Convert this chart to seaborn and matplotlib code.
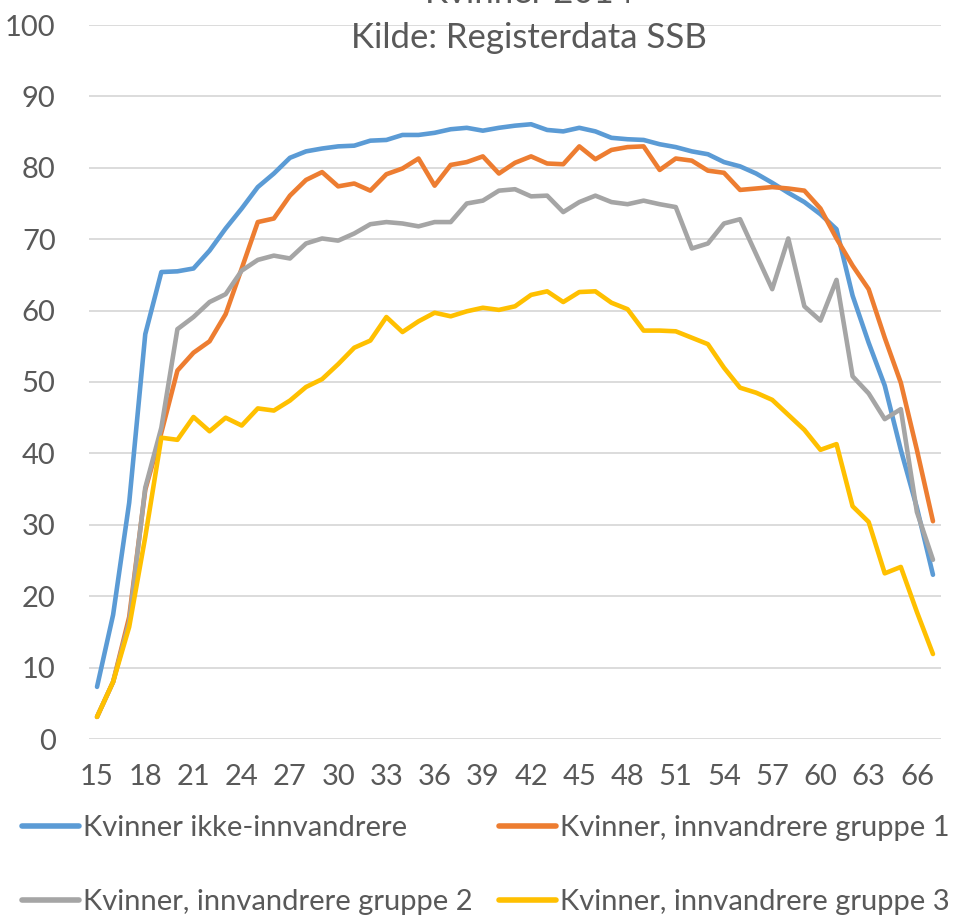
import numpy as np
import pandas as pd
import seaborn as sns
import matplotlib
import matplotlib.pyplot as plt
matplotlib.use('Agg')

# alder 15-67
ages = list(range(15, 68))

ikke_innv = [7.3, 17.4, 33.1, 56.7, 65.4, 65.5, 65.9, 68.4, 71.5, 74.3,
             77.3, 79.2, 81.4, 82.3, 82.7, 83.0, 83.1, 83.8, 83.9, 84.6,
             84.6, 84.9, 85.4, 85.6, 85.2, 85.6, 85.9, 86.1, 85.3, 85.1,
             85.6, 85.1, 84.2, 84.0, 83.9, 83.3, 82.9, 82.3, 81.9, 80.8,
             80.2, 79.2, 77.9, 76.5, 75.2, 73.5, 71.4, 62.1, 55.5, 49.5,
             40.5, 32.4, 23.0]
gruppe1 = [3.1, 8.0, 17.1, 34.9, 42.9, 51.6, 54.1, 55.7, 59.5, 65.9,
           72.4, 72.9, 76.1, 78.3, 79.4, 77.4, 77.8, 76.8, 79.1, 79.9,
           81.3, 77.5, 80.4, 80.8, 81.6, 79.2, 80.7, 81.6, 80.6, 80.5,
           83.0, 81.2, 82.5, 82.9, 83.0, 79.7, 81.3, 81.0, 79.6, 79.3,
           76.9, 77.1, 77.3, 77.1, 76.8, 74.3, 70.1, 66.3, 63.0, 56.2,
           49.9, 40.5, 30.5]
gruppe2 = [3.1, 8.0, 16.4, 35.2, 43.6, 57.4, 59.1, 61.2, 62.3, 65.6,
           67.1, 67.7, 67.3, 69.4, 70.1, 69.8, 70.8, 72.1, 72.4, 72.2,
           71.8, 72.4, 72.4, 75.0, 75.4, 76.8, 77.0, 76.0, 76.1, 73.8,
           75.2, 76.1, 75.2, 74.9, 75.4, 74.9, 74.5, 68.7, 69.4, 72.2,
           72.8, 67.9, 63.0, 70.1, 60.6, 58.6, 64.3, 50.8, 48.4, 44.8,
           46.2, 31.8, 25.1]
gruppe3 = [3.1, 8.0, 15.7, 28.3, 42.2, 41.9, 45.1, 43.1, 45.0, 43.9,
           46.3, 46.0, 47.4, 49.3, 50.4, 52.5, 54.8, 55.8, 59.1, 57.0,
           58.5, 59.7, 59.2, 59.9, 60.4, 60.1, 60.6, 62.2, 62.7, 61.2,
           62.6, 62.7, 61.1, 60.2, 57.2, 57.2, 57.1, 56.2, 55.3, 52.0,
           49.2, 48.5, 47.5, 45.4, 43.3, 40.5, 41.3, 32.6, 30.4, 23.2,
           24.1, 17.8, 11.9]

series = ["Kvinner ikke-innvandrere", "Kvinner, innvandrere gruppe 1",
          "Kvinner, innvandrere gruppe 2", "Kvinner, innvandrere gruppe 3"]
colors = ["#5B9BD5", "#ED7D31", "#A5A5A5", "#FFC000"]

df = pd.DataFrame({
    "Alder": ages * 4,
    "Andel": ikke_innv + gruppe1 + gruppe2 + gruppe3,
    "Gruppe": [s for s in series for _ in ages],
})

sns.set_style("white")
plt.rcParams['font.family'] = ['Lato', 'DejaVu Sans']
txt = "#595959"

fig = plt.figure(figsize=(9.6, 9.17), dpi=100)
ax = fig.add_axes([89 / 960, 1 - 739 / 917, (941 - 89) / 960, (739 - 25) / 917])

sns.lineplot(data=df, x="Alder", y="Andel", hue="Gruppe", hue_order=series,
             palette=colors, linewidth=3.3, ax=ax, legend=False)
for ln in ax.get_lines():
    ln.set_solid_capstyle('round')
    ln.set_solid_joinstyle('round')

ax.set_xlim(14.5, 67.5)
ax.set_ylim(0, 100)
ax.set_xticks(list(range(15, 67, 3)))
ax.set_yticks(list(range(0, 101, 10)))
ax.grid(axis='y', color='#D9D9D9', linewidth=1.3)
ax.grid(axis='x', visible=False)
ax.set_axisbelow(True)
for sp in ax.spines.values():
    sp.set_visible(False)
ax.tick_params(axis='both', length=0, labelsize=21, labelcolor=txt)
ax.tick_params(axis='y', pad=24)
ax.tick_params(axis='x', pad=18)
ax.set_xlabel("")
ax.set_ylabel("")

# tittel: første linje er kuttet i toppen som i originalen
fig.text(529 / 960, 1 + 7 / 917, "Kvinner 2014", ha='center', va='center',
         fontsize=25, color=txt)
fig.text(529 / 960, 1 - 38 / 917, "Kilde: Registerdata SSB", ha='center',
         va='center', fontsize=25, color=txt)

handles = [plt.Line2D([], [], color=c, linewidth=4, solid_capstyle='round') for c in colors]
order = [0, 2, 1, 3]
fig.legend([handles[i] for i in order], [series[i] for i in order], ncol=2,
           loc='upper left', bbox_to_anchor=(22 / 960, 1 - 815 / 917),
           frameon=False, fontsize=21, labelcolor=txt, handlelength=1.95,
           handletextpad=0.15, columnspacing=0.9, labelspacing=1.65,
           borderpad=0, borderaxespad=0)

fig.savefig("out.png", dpi=100)
